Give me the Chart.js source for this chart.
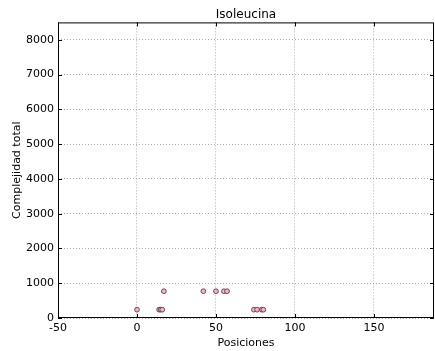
<!DOCTYPE html>
<html>
<head>
<meta charset="utf-8">
<script src="https://cdn.jsdelivr.net/npm/chart.js@4"></script>
<style>
  html, body { margin: 0; padding: 0; background: #fff; }
  #wrap { width: 435px; height: 351px; }
</style>
</head>
<body>
<div id="wrap"><canvas id="chart"></canvas></div>
<script>
// Positions and total complexity for each point
const positions = [0, 14, 15, 16, 17, 42, 50, 55, 57, 74, 76, 79, 80];
const complexity = [240, 240, 240, 240, 770, 770, 770, 770, 770, 240, 240, 240, 240];

// Axis ticks
const xTicks = [-50, 0, 50, 100, 150];
const yTicks = [0, 1000, 2000, 3000, 4000, 5000, 6000, 7000, 8000];

const FONT = 'DejaVu Sans';

// Box around the plot plus small inward tick marks
const frame = {
  id: 'frame',
  afterDraw(chart) {
    const { ctx, chartArea: a, scales } = chart;
    ctx.save();
    ctx.strokeStyle = '#000';
    ctx.lineWidth = 1;
    ctx.strokeRect(a.left + 0.5, a.top + 0.5, a.right - a.left - 1, a.bottom - a.top - 1);
    ctx.beginPath();
    xTicks.forEach(v => {
      const px = Math.round(scales.x.getPixelForValue(v)) + 0.5;
      ctx.moveTo(px, a.bottom); ctx.lineTo(px, a.bottom - 4);
      ctx.moveTo(px, a.top); ctx.lineTo(px, a.top + 4);
    });
    yTicks.forEach(v => {
      const py = Math.round(scales.y.getPixelForValue(v)) + 0.5;
      ctx.moveTo(a.left, py); ctx.lineTo(a.left + 4, py);
      ctx.moveTo(a.right, py); ctx.lineTo(a.right - 4, py);
    });
    ctx.stroke();
    ctx.restore();
  }
};

new Chart(document.getElementById('chart'), {
  type: 'scatter',
  data: {
    datasets: [{
      data: positions.map((x, i) => ({ x: x, y: complexity[i] })),
      backgroundColor: '#f4b3c2',
      borderColor: '#4a3036',
      borderWidth: 0.8,
      pointRadius: 2.4
    }]
  },
  options: {
    responsive: true,
    maintainAspectRatio: false,
    animation: false,
    layout: { autoPadding: false, padding: { left: 0, right: 1, top: 0, bottom: 0 } },
    plugins: {
      legend: { display: false },
      tooltip: { enabled: false },
      title: {
        display: true,
        fullSize: false,
        text: 'Isoleucina',
        color: '#000',
        font: { family: FONT, size: 12, weight: 'normal' },
        padding: { top: 8, bottom: 0 }
      }
    },
    scales: {
      x: {
        type: 'linear',
        min: -50,
        max: 188,
        afterBuildTicks: s => { s.ticks = xTicks.map(v => ({ value: v })); },
        afterFit: s => { s.height = 33; s.paddingLeft = 0; s.paddingRight = 0; },
        grid: {
          color: '#9a9a9a',
          lineWidth: 0.8,
          drawTicks: false
        },
        border: { display: false, dash: [1, 2] },
        ticks: {
          color: '#000',
          padding: 4,
          maxRotation: 0,
          font: { family: FONT, size: 11 },
          callback: v => String(v)
        },
        title: {
          display: true,
          text: 'Posiciones',
          color: '#000',
          font: { family: FONT, size: 11 },
          padding: { top: 0, bottom: 1 }
        }
      },
      y: {
        type: 'linear',
        min: 0,
        max: 8500,
        afterBuildTicks: s => { s.ticks = yTicks.map(v => ({ value: v })); },
        afterFit: s => { s.width = 58; },
        grid: {
          color: '#9a9a9a',
          lineWidth: 0.8,
          drawTicks: false
        },
        border: { display: false, dash: [1, 2] },
        ticks: {
          color: '#000',
          padding: 4,
          font: { family: FONT, size: 11 },
          callback: v => String(v)
        },
        title: {
          display: true,
          text: 'Complejidad total',
          color: '#000',
          font: { family: FONT, size: 11 },
          padding: { top: 11, bottom: 0 }
        }
      }
    }
  },
  plugins: [frame]
});
</script>
</body>
</html>
